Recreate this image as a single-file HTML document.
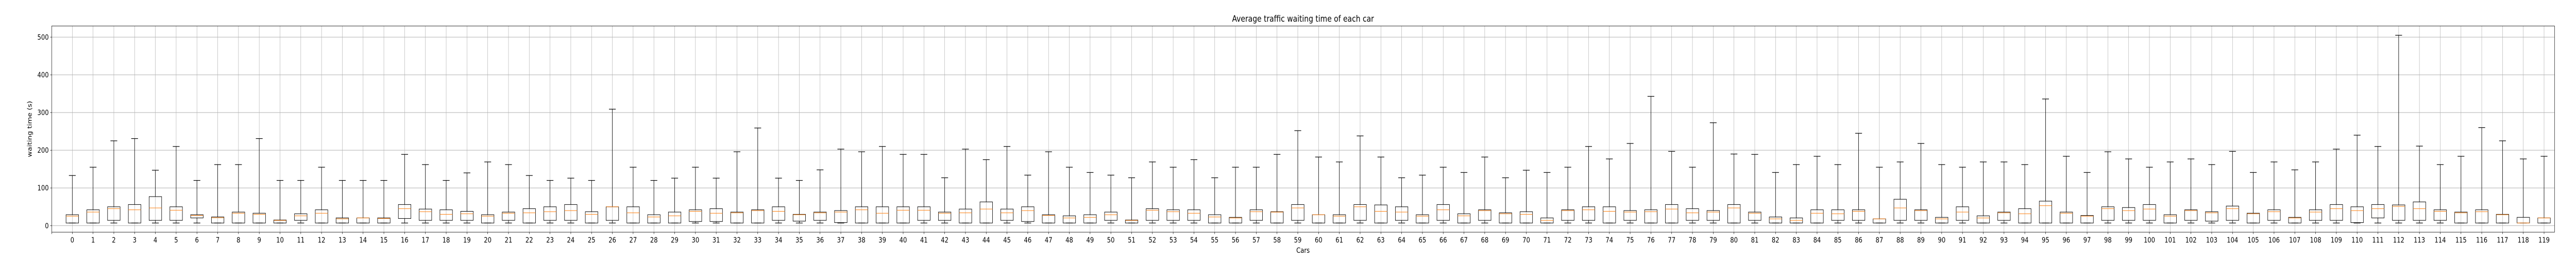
<!DOCTYPE html>
<html><head><meta charset="utf-8"><style>
html,body{margin:0;padding:0;background:#fff;width:100%;height:100%;overflow:hidden;}
svg{display:block;position:absolute;left:0;top:0;width:100vw;height:100vh;}
svg text{font-family:"DejaVu Sans","Liberation Sans",sans-serif;}
</style></head><body>
<svg id="chart" viewBox="0 0 6000 500" preserveAspectRatio="none" xmlns="http://www.w3.org/2000/svg">
<rect x="0" y="0" width="6000" height="500" fill="#fff"/>
<g id="grid"></g>
<g id="boxes"></g>
<g id="axes"></g>
<text x="3035" y="42" font-size="16.7" text-anchor="middle">Average traffic waiting time of each car</text>
<text x="3035" y="490" font-size="13.9" text-anchor="middle">Cars</text>
<text x="0" y="0" font-size="13.9" text-anchor="middle" transform="translate(74,250) rotate(-90)">waiting time (s)</text>
</svg>
<script>
const lows = Array(120).fill(7);
const q1s = [7,7,14,7,14,14,20.5,7,7,7,7,14,7,7,7,7,19,14,14,14,7,14,7,14,14,7,14,7,7,7,11,11,7,7,14,12,14,8,7,7,7,14,14,7,7,14,11,7,7,7,14,7,14,14,14,7,7,14,7,14,7,7,14,7,14,7,14,7,14,7,7,7,14,14,7,14,7,7,14,14,7,14,7,7,7,14,14,7,14,14,7,14,7,14,7,7,7,7,14,14,14,7,14,12,14,7,14,7,14,14,8,20.5,14,14,14,7,7,7,7,7];
const medians = [25,36,45,42,47,41,27,21,33,30,14,26,33,18,20.5,19,45,37,30,31.5,25,33,34,37,40,30,50,34,23,26,38,33,34,40,38,29,34,36,42,33,41,41,33,34,44,34,40,27,20.5,22,29,14,41,37,33,23,20.5,37,36,47,29,25,50,38,36,25,42,26,40,31.5,30,14,40,42,38,36,37,44,34,36,47,33,18,14,33,31.5,38,18,47,40,18,36,20.5,34,31.5,53,33,25,45,40,44,25,40,34,45,31.5,37,20.5,36,45,40,45,51,45,38,34,37,29,7,20.5];
const q3s = [29,42,50,56,77,50,29,23,36,33,15,31.5,42,20.5,20.5,20.5,56,44,42,38,29,36,45,50,56,37,50,50,29,36,42,45,36,42,50,30,36,40,50,50,50,50,36,44,63,44,50,29,26,29,36,15,45,42,42,29,22,42,37,56,29,29,56,55,50,29,56,31.5,42,34,37,20.5,42,50,50,40,42,56,45,40,56,36,23,20.5,42,42,42,18,70,42,22,50,26,36,45,65,36,27,50,48,56,29,42,37,52,33,42,22,42,56,50,56,55,63,42,36,42,30,22,20.5];
const highs = [133,155,225,231,147,210,120,162,162,231,120,120,155,120,120,120,189,162,120,140,169,162,133,120,126,120,309,155,120,126,155,126,196,259,126,120,148,203,196,210,189,189,127,203,175,210,134,196,155,141,134,127,169,155,175,127,155,155,189,252,182,169,238,182,127,134,155,141,182,127,147,141,155,210,177,218,343,197,155,273,190,189,141,162,184,162,245,155,169,218,162,155,169,169,162,336,184,141,196,177,155,169,177,162,197,141,169,148,169,203,240,210,505,211,162,184,260,225,177,184];
const yTicks = [0,100,200,300,400,500];

const NS="http://www.w3.org/2000/svg";
const L=120.5,R=5950,T=50.3,B=450;
const xOf=i=>168.4+i*48.38;
const yOf=v=>437.3-v*0.7306;
function mk(tag,attrs,parent){const e=document.createElementNS(NS,tag);for(const k in attrs)e.setAttribute(k,attrs[k]);parent.appendChild(e);return e;}
const grid=document.getElementById('grid'),boxes=document.getElementById('boxes'),axes=document.getElementById('axes');
yTicks.forEach(t=>{
  const y=yOf(t);
  const g=mk('line',{x1:L,x2:R,y1:y,y2:y,stroke:'#b0b0b0','stroke-width':1},grid);
  
  
  mk('line',{x1:L-3.5,x2:L,y1:y,y2:y,stroke:'#000','stroke-width':0.8},axes);
  const tx=mk('text',{x:L-7,y:y+5,'font-size':13.9,'text-anchor':'end'},axes);
  tx.textContent=t;
  
  
});
mk('line',{x1:L,x2:L,y1:B,y2:B+3.5,stroke:'#000','stroke-width':0.8},axes);
for(let i=0;i<highs.length;i++){
  const x=xOf(i);
  const g=mk('line',{x1:x,x2:x,y1:T,y2:B,stroke:'#b0b0b0','stroke-width':0.8},grid);
  
  
  mk('line',{x1:x,x2:x,y1:B,y2:B+3.5,stroke:'#000','stroke-width':0.8},axes);
  const tx=mk('text',{x:x,y:B+20,'font-size':13.9,'text-anchor':'middle'},axes);
  tx.textContent=i;
  
  
  const grp=mk('g',{},boxes);
  
  
  const hw=14.6,cw=7.9;
  mk('line',{x1:x,x2:x,y1:yOf(q3s[i]),y2:yOf(highs[i]),stroke:'#000','stroke-width':1},grp);
  mk('line',{x1:x,x2:x,y1:yOf(q1s[i]),y2:yOf(lows[i]),stroke:'#000','stroke-width':1},grp);
  mk('line',{x1:x-cw,x2:x+cw,y1:yOf(highs[i]),y2:yOf(highs[i]),stroke:'#000','stroke-width':1.2},grp);
  mk('line',{x1:x-cw,x2:x+cw,y1:yOf(lows[i]),y2:yOf(lows[i]),stroke:'#000','stroke-width':1.2},grp);
  mk('rect',{x:x-hw,y:yOf(q3s[i]),width:2*hw,height:yOf(q1s[i])-yOf(q3s[i]),fill:'none',stroke:'#000','stroke-width':1},grp);
  mk('line',{x1:x-hw,x2:x+hw,y1:yOf(medians[i]),y2:yOf(medians[i]),stroke:'#ff7f0e','stroke-width':1},grp);
}
const fr=mk('rect',{x:L,y:T,width:R-L,height:B-T,fill:'none',stroke:'#000','stroke-width':0.8},axes);


</script>
</body></html>
